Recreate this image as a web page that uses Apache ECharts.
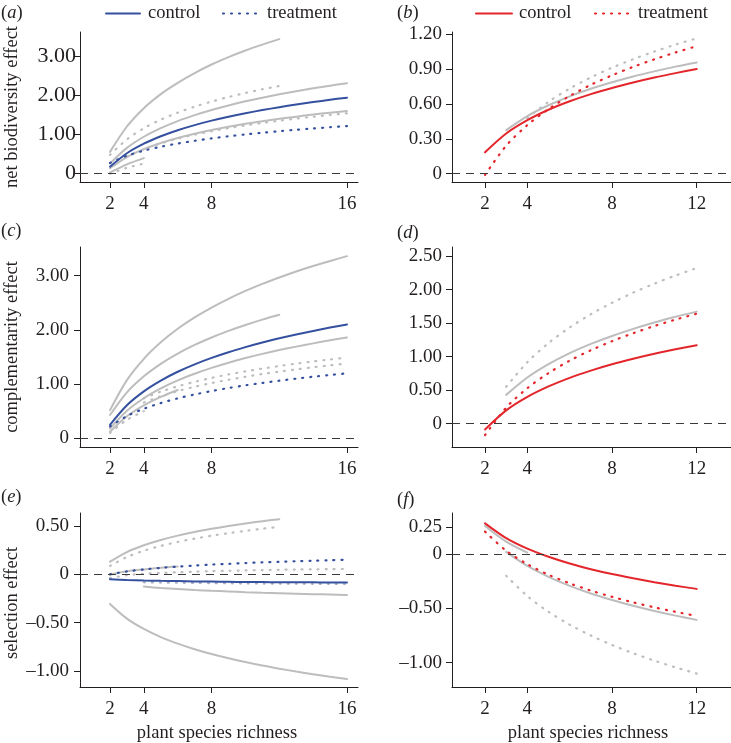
<!DOCTYPE html>
<html><head><meta charset="utf-8">
<script src="https://cdn.jsdelivr.net/npm/echarts@6/dist/echarts.min.js"></script>
<style>html,body{margin:0;padding:0;background:#fff}#c{width:731px;height:743px}</style>
</head><body><div id="c"></div>
<script>
// ---- x sample positions (species richness) ----
const X_2_16 = [2, 3, 4, 5, 6, 7, 8, 9, 10, 11, 12, 13, 14, 15, 16];
const X_2_12 = [2, 3, 4, 5, 6, 7, 8, 9, 10, 11, 12];
const X_3_16 = [3, 4, 5, 6, 7, 8, 9, 10, 11, 12, 13, 14, 15, 16];
const X_4_16 = [4, 5, 6, 7, 8, 9, 10, 11, 12, 13, 14, 15, 16];
const X_3_12 = [3, 4, 5, 6, 7, 8, 9, 10, 11, 12];
const X_4_12 = [4, 5, 6, 7, 8, 9, 10, 11, 12];
const X_2_6 = [2, 3, 4, 5, 6];
const X_2_4 = [2, 3, 4];

// ---- tick labels ----
const xTicksLeft = [2, 4, 8, 16];
const xTicksRight = [2, 4, 8, 12];
const yTicksA = [0, 1, 2, 3];
const yTicksB = [0, 0.3, 0.6, 0.9, 1.2];
const yTicksC = [0, 1, 2, 3];
const yTicksD = [0, 0.5, 1, 1.5, 2, 2.5];
const yTicksE = [-1, -0.5, 0, 0.5];
const yTicksF = [-1, -0.5, 0, 0.25];

// ---- panel (a) net biodiversity effect ----
const aGray1 = [0.56, 1.21, 1.68, 2.04, 2.33, 2.58, 2.80, 2.99, 3.16, 3.31, 3.45];           // X_2_12
const aGrayDot1 = [0.48, 0.88, 1.165, 1.385, 1.565, 1.718, 1.849, 1.966, 2.07, 2.164, 2.25]; // X_2_12
const aGray2 = [0.26, 0.662, 0.947, 1.168, 1.349, 1.501, 1.634, 1.75, 1.855, 1.949, 2.036, 2.115, 2.188, 2.257, 2.321]; // X_2_16
const aGray3 = [0.14, 0.427, 0.63, 0.788, 0.917, 1.026, 1.12, 1.203, 1.278, 1.345, 1.407, 1.463, 1.516, 1.565, 1.61];  // X_2_16
const aGrayDot2 = [0.44, 0.63, 0.778, 0.899, 1.001, 1.09, 1.168, 1.238, 1.301, 1.359, 1.412, 1.461, 1.506, 1.549];    // X_3_16
const aGray4 = [0.03, 0.24, 0.40];      // X_2_4
const aGrayDot3 = [0.00, 0.15, 0.26];   // X_2_4
const aControl = [0.18, 0.525, 0.77, 0.96, 1.115, 1.246, 1.36, 1.46, 1.55, 1.631, 1.705, 1.773, 1.836, 1.895, 1.95];     // X_2_16
const aTreatment = [0.275, 0.459, 0.59, 0.691, 0.774, 0.844, 0.905, 0.959, 1.007, 1.05, 1.089, 1.126, 1.159, 1.191, 1.22]; // X_2_16

// ---- panel (b) ----
const bGray = [0.376, 0.497, 0.59, 0.667, 0.732, 0.788, 0.838, 0.882, 0.923, 0.959];     // X_3_12
const bGrayDot = [0.48, 0.62, 0.734, 0.83, 0.914, 0.987, 1.053, 1.113, 1.167];            // X_4_12
const bControl = [0.184, 0.346, 0.461, 0.551, 0.624, 0.686, 0.739, 0.786, 0.829, 0.867, 0.902];   // X_2_12
const bTreatment = [-0.01, 0.241, 0.419, 0.557, 0.67, 0.766, 0.848, 0.921, 0.986, 1.045, 1.099];  // X_2_12

// ---- panel (c) complementarity effect ----
const cGray1 = [0.52, 1.074, 1.467, 1.771, 2.021, 2.231, 2.413, 2.574, 2.719, 2.849, 2.967, 3.077, 3.178, 3.272, 3.361]; // X_2_16
const cGray2 = [0.43, 0.849, 1.145, 1.375, 1.564, 1.723, 1.861, 1.982, 2.091, 2.19, 2.279];   // X_2_12
const cGray3 = [0.18, 0.508, 0.74, 0.92, 1.068, 1.192, 1.30, 1.395, 1.481, 1.558, 1.628, 1.692, 1.752, 1.808, 1.86]; // X_2_16
const cGray4 = [0.123, 0.407, 0.608, 0.764, 0.892];   // X_2_6
const cGrayDot1 = [0.74, 0.861, 0.959, 1.043, 1.115, 1.179, 1.236, 1.287, 1.334, 1.378, 1.418, 1.455, 1.49]; // X_4_16
const cGrayDot2 = [0.66, 0.776, 0.871, 0.951, 1.02, 1.081, 1.136, 1.186, 1.231, 1.272, 1.311, 1.347, 1.38];  // X_4_16
const cGrayDot3 = [0.10, 0.34, 0.50];                 // X_2_4
const cControl = [0.25, 0.611, 0.867, 1.065, 1.228, 1.365, 1.484, 1.589, 1.682, 1.767, 1.845, 1.916, 1.982, 2.043, 2.101]; // X_2_16
const cTreatment = [0.219, 0.41, 0.546, 0.651, 0.737, 0.81, 0.872, 0.928, 0.978, 1.022, 1.063, 1.101, 1.136, 1.169, 1.199]; // X_2_16

// ---- panel (d) ----
const dGray = [0.43, 0.688, 0.887, 1.051, 1.189, 1.308, 1.413, 1.508, 1.593, 1.671];      // X_3_12
const dGrayDot = [0.55, 0.917, 1.202, 1.435, 1.632, 1.802, 1.953, 2.088, 2.209, 2.32];    // X_3_12
const dControl = [-0.085, 0.199, 0.40, 0.556, 0.684, 0.792, 0.886, 0.968, 1.042, 1.109, 1.17];  // X_2_12
const dTreatment = [-0.17, 0.24, 0.53, 0.755, 0.94, 1.095, 1.23, 1.349, 1.456, 1.552, 1.64];    // X_2_12

// ---- panel (e) selection effect ----
const eGray1 = [0.13, 0.23, 0.30, 0.355, 0.40, 0.438, 0.47, 0.499, 0.525, 0.549, 0.57];      // X_2_12
const eGrayDot1 = [0.086, 0.178, 0.243, 0.293, 0.334, 0.369, 0.399, 0.425, 0.449, 0.471, 0.49]; // X_2_12
const eGray2 = [-0.005, 0.03, 0.05, 0.068, 0.08];                                           // X_2_6
const eGrayDot2 = [-0.04, -0.01, 0.005, 0.013, 0.02, 0.027, 0.032, 0.036, 0.04, 0.043, 0.046, 0.049, 0.051, 0.053, 0.055]; // X_2_16
const eGrayDot3 = [-0.083, -0.086, -0.088, -0.09, -0.092, -0.093, -0.095, -0.096, -0.097, -0.098, -0.099, -0.0995, -0.1]; // X_4_16
const eGray3 = [-0.128, -0.142, -0.153, -0.163, -0.171, -0.178, -0.185, -0.191, -0.196, -0.201, -0.206, -0.21, -0.214];  // X_4_16
const eGray4 = [-0.307, -0.459, -0.566, -0.65, -0.718, -0.776, -0.826, -0.87, -0.909, -0.945, -0.977, -1.007, -1.035, -1.061, -1.085]; // X_2_16
const eControl = [-0.052, -0.059, -0.064, -0.068, -0.071, -0.074, -0.076, -0.078, -0.08, -0.081, -0.082, -0.083, -0.084, -0.085, -0.086]; // X_2_16
const eTreatment = [0.0, 0.029, 0.05, 0.066, 0.079, 0.09, 0.10, 0.108, 0.116, 0.123, 0.129, 0.135, 0.14, 0.145, 0.15];  // X_2_16

// ---- panel (f) ----
const fGray1 = [0.258, 0.114, 0.012];                                                        // X_2_4
const fGray2 = [0.02, -0.11, -0.21, -0.293, -0.363, -0.423, -0.476, -0.524, -0.567, -0.606];   // X_3_12
const fGrayDot = [-0.2, -0.387, -0.532, -0.65, -0.75, -0.837, -0.913, -0.981, -1.043, -1.1];    // X_3_12
const fControl = [0.282, 0.146, 0.049, -0.026, -0.088, -0.14, -0.185, -0.224, -0.26, -0.292, -0.321];  // X_2_12
const fTreatment = [0.206, 0.03, -0.094, -0.191, -0.27, -0.337, -0.394, -0.445, -0.491, -0.532, -0.57]; // X_2_12

const FONT = "'Liberation Serif','DejaVu Serif',serif";
const FS = 18.5;
const TFS = 19;
const INK = '#231f20';
const GRAY = '#bdbdbd';
const BLUE = '#34509f';
const RED = '#e3262b';
const DOT = [1, 7];

function pairs(xs, ys) { return xs.map((x, i) => [x, ys[i]]); }

const series = [];
function add(g, xs, ys, color, dotted, z) {
  series.push({
    type: 'line', xAxisIndex: g, yAxisIndex: g, data: pairs(xs, ys),
    showSymbol: false, symbol: 'none', smooth: 0.3,
    z: z || 2, silent: true,
    lineStyle: { color: color, width: dotted ? 2.2 : 2, type: dotted ? DOT : 'solid', cap: 'round' }
  });
}

// zero reference lines (one per grid)
for (let g = 0; g < 6; g++) {
  series.push({
    type: 'line', xAxisIndex: g, yAxisIndex: g, data: [], silent: true,
    markLine: { silent: true, symbol: 'none', label: { show: false }, animation: false,
      lineStyle: { type: [8, 6], color: '#3a3a3a', width: 1.2 }, data: [{ yAxis: 0 }] }
  });
}

// (a)
add(0, X_2_12, aGray1, GRAY, false);
add(0, X_2_12, aGrayDot1, GRAY, true);
add(0, X_2_16, aGray2, GRAY, false);
add(0, X_2_16, aGray3, GRAY, false);
add(0, X_3_16, aGrayDot2, GRAY, true);
add(0, X_2_4, aGray4, GRAY, false);
add(0, X_2_4, aGrayDot3, GRAY, true);
add(0, X_2_16, aTreatment, BLUE, true, 4);
add(0, X_2_16, aControl, BLUE, false, 4);
// (b)
add(1, X_3_12, bGray, GRAY, false);
add(1, X_4_12, bGrayDot, GRAY, true);
add(1, X_2_12, bTreatment, RED, true, 4);
add(1, X_2_12, bControl, RED, false, 4);
// (c)
add(2, X_2_16, cGray1, GRAY, false);
add(2, X_2_12, cGray2, GRAY, false);
add(2, X_2_16, cGray3, GRAY, false);
add(2, X_2_6, cGray4, GRAY, false);
add(2, X_4_16, cGrayDot1, GRAY, true);
add(2, X_4_16, cGrayDot2, GRAY, true);
add(2, X_2_4, cGrayDot3, GRAY, true);
add(2, X_2_16, cTreatment, BLUE, true, 4);
add(2, X_2_16, cControl, BLUE, false, 4);
// (d)
add(3, X_3_12, dGray, GRAY, false);
add(3, X_3_12, dGrayDot, GRAY, true);
add(3, X_2_12, dTreatment, RED, true, 4);
add(3, X_2_12, dControl, RED, false, 4);
// (e)
add(4, X_2_12, eGray1, GRAY, false);
add(4, X_2_12, eGrayDot1, GRAY, true);
add(4, X_2_6, eGray2, GRAY, false);
add(4, X_2_16, eGrayDot2, GRAY, true);
add(4, X_4_16, eGrayDot3, '#aab0c4', true);
add(4, X_4_16, eGray3, GRAY, false);
add(4, X_2_16, eGray4, GRAY, false);
add(4, X_2_16, eTreatment, BLUE, true, 4);
add(4, X_2_16, eControl, BLUE, false, 4);
// (f)
add(5, X_2_4, fGray1, GRAY, false);
add(5, X_3_12, fGray2, GRAY, false);
add(5, X_3_12, fGrayDot, GRAY, true);
add(5, X_2_12, fTreatment, RED, true, 4);
add(5, X_2_12, fControl, RED, false, 4);

const grids = [
  { left: 80, top: 32, width: 278, height: 150 },
  { left: 452, top: 32, width: 279, height: 150 },
  { left: 80, top: 247, width: 278, height: 200 },
  { left: 452, top: 247, width: 279, height: 200 },
  { left: 80, top: 513, width: 278, height: 174 },
  { left: 452, top: 513, width: 279, height: 174 }
];
const xr = [[0.228, 16.65], [0.44, 13.62]];
const yr = [[-0.213, 3.633], [-0.0716, 1.2215], [-0.16, 3.53], [-0.347, 2.634], [-1.167, 0.634], [-1.2235, 0.377]];
const yt = [yTicksA, yTicksB, yTicksC, yTicksD, yTicksE, yTicksF];
const yFont = [22, TFS, TFS, TFS, TFS, TFS];
const yMargin = [4, 10, 11, 10, 11, 10];

function fmtY(v) {
  if (Math.abs(v) < 1e-9) return '0';
  return (v < 0 ? '\u2013' : '') + Math.abs(v).toFixed(2);
}
const axLine = { show: true, onZero: false, lineStyle: { color: INK, width: 1 } };
const xAxis = [], yAxis = [];
for (let g = 0; g < 6; g++) {
  const col = g % 2;
  const xt = col === 0 ? xTicksLeft : xTicksRight;
  xAxis.push({
    type: 'value', gridIndex: g, min: xr[col][0], max: xr[col][1],
    axisLine: axLine, splitLine: { show: false },
    axisTick: { show: true, customValues: xt, length: 6, lineStyle: { color: INK, width: 1 } },
    axisLabel: { customValues: xt, fontFamily: FONT, fontSize: TFS, color: INK, margin: 13 }
  });
  yAxis.push({
    type: 'value', gridIndex: g, min: yr[g][0], max: yr[g][1],
    axisLine: axLine, splitLine: { show: false },
    axisTick: { show: true, customValues: yt[g], length: 6, lineStyle: { color: INK, width: 1 } },
    axisLabel: { customValues: yt[g], fontFamily: FONT, fontSize: yFont[g], color: INK, margin: yMargin[g], formatter: fmtY }
  });
}

function txt(x, y, text, opts) {
  return Object.assign({ type: 'text', x: x, y: y, silent: true,
    style: Object.assign({ text: text, font: FS + 'px ' + FONT, fill: INK, textAlign: 'left', textVerticalAlign: 'middle' }, (opts && opts.style) || {}) },
    opts && opts.rotation !== undefined ? { rotation: opts.rotation } : {});
}
function panelLabel(x, y, letter) {
  return { type: 'text', x: x, y: y, silent: true,
    style: { text: '(' + '{i|' + letter + '})', font: FS + 'px ' + FONT, fill: INK, textVerticalAlign: 'middle',
      rich: { i: { fontStyle: 'italic', fontFamily: FONT, fontSize: FS, fill: INK } } } };
}
function legLine(x1, x2, y, color, dotted) {
  return { type: 'line', silent: true, shape: { x1: x1, y1: y, x2: x2, y2: y },
    style: { stroke: color, lineWidth: dotted ? 2.2 : 2, lineDash: dotted ? DOT : null, lineCap: 'round' } };
}

const graphic = [
  panelLabel(1, 13, 'a'), panelLabel(397, 13, 'b'),
  panelLabel(1, 231, 'c'), panelLabel(397, 233, 'd'),
  panelLabel(1, 497, 'e'), panelLabel(397, 500, 'f'),
  legLine(106, 140, 13.5, BLUE, false), txt(148, 13, 'control'),
  legLine(223, 258, 13.5, BLUE, true), txt(267, 13, 'treatment'),
  legLine(476, 512, 13.5, RED, false), txt(519, 13, 'control'),
  legLine(595, 632, 13.5, RED, true), txt(638, 13, 'treatment'),
  txt(12, 107, 'net biodiversity effect', { rotation: Math.PI / 2, style: { textAlign: 'center' } }),
  txt(12, 347, 'complementarity effect', { rotation: Math.PI / 2, style: { textAlign: 'center' } }),
  txt(12, 603, 'selection effect', { rotation: Math.PI / 2, style: { textAlign: 'center' } }),
  txt(217, 733, 'plant species richness', { style: { textAlign: 'center' } }),
  txt(588, 733, 'plant species richness', { style: { textAlign: 'center' } })
];

const chart = echarts.init(document.getElementById('c'), null, { renderer: 'canvas' });
chart.setOption({
  animation: false, backgroundColor: '#fff',
  grid: grids, xAxis: xAxis, yAxis: yAxis, series: series, graphic: graphic
});
</script></body></html>
